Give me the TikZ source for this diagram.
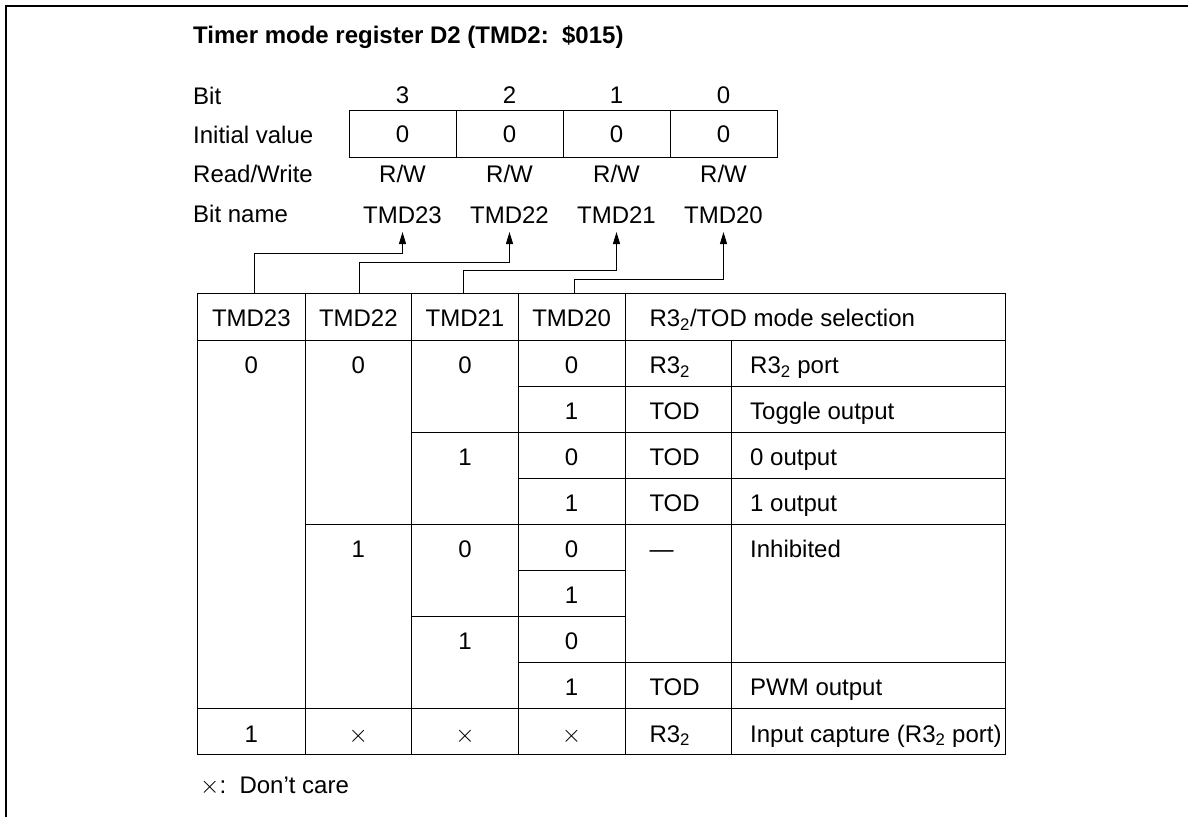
\documentclass[tikz,border=0pt]{standalone}
\usepackage{fontspec}
\setmainfont{Liberation Sans}
\usetikzlibrary{arrows.meta}
\begin{document}
\begin{tikzpicture}[x=1pt,y=-1pt,
  txt/.style={anchor=base, inner sep=0pt, font=\fontsize{24}{28}\selectfont},
  ltxt/.style={txt, anchor=base west},
  regcell/.style={draw, line width=1pt, minimum width=107pt, minimum height=46.3pt, inner sep=0pt, text height=16.8pt, text depth=0pt, font=\fontsize{24}{28}\selectfont},
  bitname/.style={txt, inner xsep=0pt, inner ysep=8.5pt, text depth=0pt},
  headcell/.style={txt, text height=16.8pt, text depth=0pt, inner ysep=16.6pt},
  grid/.style={line width=1pt, draw=black},
  arr/.style={line width=1pt, -{Triangle[length=12pt,width=7pt]}},
  frame/.style={line width=2pt},
]
\useasboundingbox (0,0) rectangle (1188,817);
% frame
\draw[frame] (5.5,817) -- (5.5,5.5) -- (1188,5.5);

% title
\node[ltxt, font=\fontsize{24}{28}\selectfont\bfseries] (title) at (193,43.3) {Timer mode register D2 (TMD2:\ \ \$015)};

% left labels
\node[ltxt] (lbit)  at (193,104)   {Bit};
\node[ltxt] (linit) at (193,143.3) {Initial value};
\node[ltxt] (lrw)   at (193,182.7) {Read/Write};
\node[ltxt] (lname) at (193,222.7) {Bit name};

% bit numbers
\node[txt] (b3) at (402.5,103.3) {3};
\node[txt] (b2) at (509.5,103.3) {2};
\node[txt] (b1) at (616.5,103.3) {1};
\node[txt] (b0) at (723.5,103.3) {0};

% register cells
\node[regcell] (reg3) at (402.5,133.9) {0};
\node[regcell] (reg2) at (509.5,133.9) {0};
\node[regcell] (reg1) at (616.5,133.9) {0};
\node[regcell] (reg0) at (723.5,133.9) {0};

% R/W
\node[txt] (rw3) at (402.5,182.3) {R/W};
\node[txt] (rw2) at (509.5,182.3) {R/W};
\node[txt] (rw1) at (616.5,182.3) {R/W};
\node[txt] (rw0) at (723.5,182.3) {R/W};

% bit names
\node[bitname] (bn23) at (402.5,223.3) {TMD23};
\node[bitname] (bn22) at (509.5,223.3) {TMD22};
\node[bitname] (bn21) at (616.5,223.3) {TMD21};
\node[bitname] (bn20) at (723.5,223.3) {TMD20};

% table grid
\draw[grid] (197.7,293.3) rectangle (1005,754.7);
\draw[grid] (305,293.3) -- (305,754.7);
\draw[grid] (411.7,293.3) -- (411.7,754.7);
\draw[grid] (518.3,293.3) -- (518.3,754.7);
\draw[grid] (625,293.3) -- (625,754.7);
\draw[grid] (731.7,340) -- (731.7,754.7);
\draw[grid] (197.7,340) -- (1005,340);
\draw[grid] (518.3,386.1) -- (1005,386.1);
\draw[grid] (411.7,432.1) -- (1005,432.1);
\draw[grid] (518.3,478.2) -- (1005,478.2);
\draw[grid] (305,524.3) -- (1005,524.3);
\draw[grid] (518.3,570.4) -- (625,570.4);
\draw[grid] (411.7,616.4) -- (625,616.4);
\draw[grid] (518.3,662.5) -- (1005,662.5);
\draw[grid] (197.7,708.6) -- (1005,708.6);

% header
\node[headcell] (h23) at (251.35,326.7) {TMD23};
\node[headcell] (h22) at (358.35,326.7) {TMD22};
\node[headcell] (h21) at (465,326.7) {TMD21};
\node[headcell] (h20) at (571.65,326.7) {TMD20};
\node[ltxt] (hsel) at (649.3,326.7) {R3\textsubscript{2}/TOD mode selection};

% connectors
\draw[arr] ([xshift=3pt]h23.north) -- ++(0,-39.3) -| (bn23.south);
\draw[arr] ([xshift=1pt]h22.north) -- ++(0,-30.3) -| (bn22.south);
\draw[arr] ([xshift=-1.7pt]h21.north) -- ++(0,-22.3) -| (bn21.south);
\draw[arr] ([xshift=2.6pt]h20.north) -- ++(0,-13.3) -| (bn20.south);

% row 1
\node[txt] (a1) at (251.35,373.4) {0};
\node[txt] (b1r) at (358.35,373.4) {0};
\node[txt] (c1) at (465,373.4) {0};
\node[txt] (d1) at (571.65,373.4) {0};
\node[ltxt] (e1) at (649.3,373.4) {R3\textsubscript{2}};
\node[ltxt] (f1) at (750,373.4) {R3\textsubscript{2} port};
% row 2
\node[txt] (d2) at (571.65,419.5) {1};
\node[ltxt] (e2) at (649.3,419.5) {TOD};
\node[ltxt] (f2) at (750,419.5) {Toggle output};
% row 3
\node[txt] (c3) at (465,465.5) {1};
\node[txt] (d3) at (571.65,465.5) {0};
\node[ltxt] (e3) at (649.3,465.5) {TOD};
\node[ltxt] (f3) at (750,465.5) {0 output};
% row 4
\node[txt] (d4) at (571.65,511.6) {1};
\node[ltxt] (e4) at (649.3,511.6) {TOD};
\node[ltxt] (f4) at (750,511.6) {1 output};
% row 5
\node[txt] (b5) at (358.35,557.7) {1};
\node[txt] (c5) at (465,557.7) {0};
\node[txt] (d5) at (571.65,557.7) {0};
\node[ltxt] (e5) at (649.3,557.7) {—};
\node[ltxt] (f5) at (750,557.7) {Inhibited};
% row 6
\node[txt] (d6) at (571.65,603.8) {1};
% row 7
\node[txt] (c7) at (465,649.8) {1};
\node[txt] (d7) at (571.65,649.8) {0};
% row 8
\node[txt] (d8) at (571.65,695.9) {1};
\node[ltxt] (e8) at (649.3,695.9) {TOD};
\node[ltxt] (f8) at (750,695.9) {PWM output};
% row 9
\node[txt] (a9) at (251.35,742) {1};
\node[txt] (b9) at (358.35,742) {$\times$};
\node[txt] (c9) at (465,742) {$\times$};
\node[txt] (d9) at (571.65,742) {$\times$};
\node[ltxt] (e9) at (649.3,742) {R3\textsubscript{2}};
\node[ltxt] (f9) at (750,742) {Input capture (R3\textsubscript{2} port)};

% footnote
\node[ltxt] (note) at (200,793.3) {$\times$:\ \ Don’t care};
\end{tikzpicture}
\end{document}
